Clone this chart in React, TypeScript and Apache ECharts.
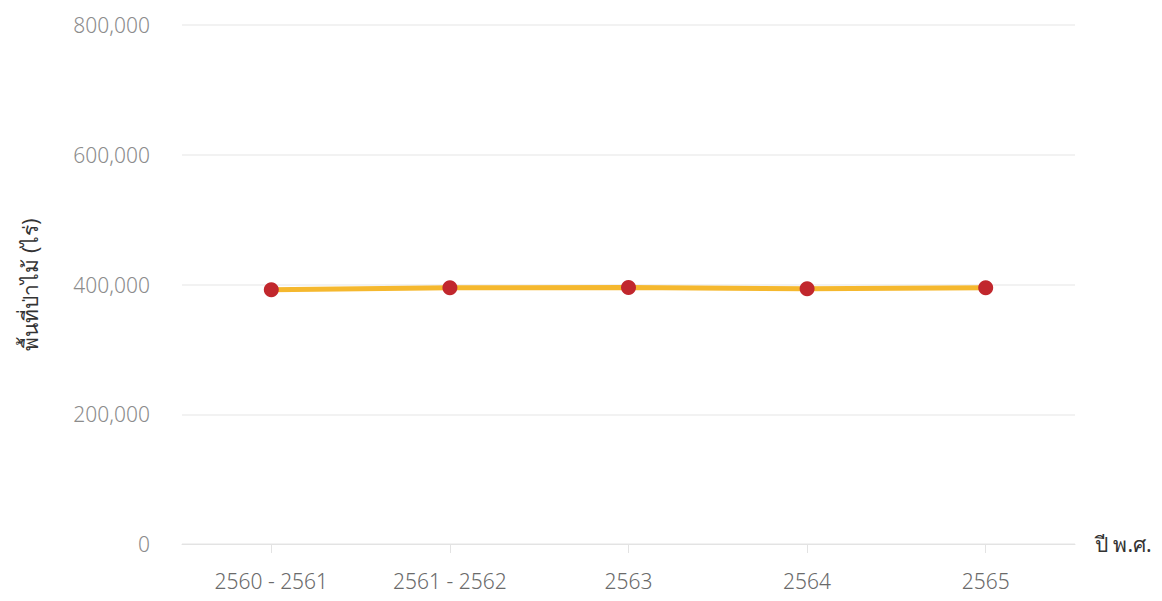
import React, { useEffect, useRef } from "react";
import * as echarts from "echarts";

const categories = ["2560 - 2561", "2561 - 2562", "2563", "2564", "2565"];
const forestArea = [392000, 395000, 395500, 393500, 395000];
const yTicks = [0, 200000, 400000, 600000, 800000];
const yAxisName = "พื้นที่ป่าไม้ (ไร่)";
const xAxisName = "ปี พ.ศ.";

export default function App() {
  const ref = useRef<HTMLDivElement>(null);
  useEffect(() => {
    if (!ref.current) return;
    const chart = echarts.init(ref.current, null, { renderer: "svg" });
    const font = "'Noto Sans', 'DejaVu Sans', sans-serif";
    chart.setOption({
      animation: false,
      grid: { left: 182, right: 87, top: 25, bottom: 57 },
      xAxis: {
        type: "category",
        data: categories,
        boundaryGap: true,
        name: xAxisName,
        nameLocation: "end",
        nameGap: 20,
        nameTextStyle: { color: "#333", fontSize: 21, fontWeight: "normal", fontFamily: font },
        axisLine: { lineStyle: { color: "#e3e3e3", width: 1 } },
        axisTick: { show: true, alignWithLabel: true, length: 9, lineStyle: { color: "#e3e3e3" } },
        axisLabel: { color: "#6a6a6a", fontSize: 21, margin: 26, fontFamily: font, fontWeight: 300 },
      },
      yAxis: {
        type: "value",
        min: yTicks[0],
        max: yTicks[yTicks.length - 1],
        interval: yTicks[1] - yTicks[0],
        name: yAxisName,
        nameLocation: "middle",
        nameGap: 142,
        nameRotate: 90,
        nameTextStyle: { color: "#333", fontSize: 21, fontFamily: font },
        axisLine: { show: false },
        axisTick: { show: false },
        axisLabel: {
          color: "#8c8c8c",
          fontSize: 21,
          margin: 32,
          fontFamily: font,
          fontWeight: 300,
          formatter: (v: number) => v.toLocaleString("en-US"),
        },
        splitLine: { lineStyle: { color: "#eeeeee", width: 1.5 } },
      },
      series: [
        {
          type: "line",
          data: forestArea,
          symbol: "circle",
          symbolSize: 15,
          lineStyle: { color: "#F5B82E", width: 5 },
          itemStyle: { color: "#C1272D" },
          z: 3,
        },
      ],
    });
    return () => chart.dispose();
  }, []);
  return (
    <div
      ref={ref}
      style={{ position: "fixed", left: 0, top: 0, width: 1162, height: 601, background: "#fff" }}
    />
  );
}
